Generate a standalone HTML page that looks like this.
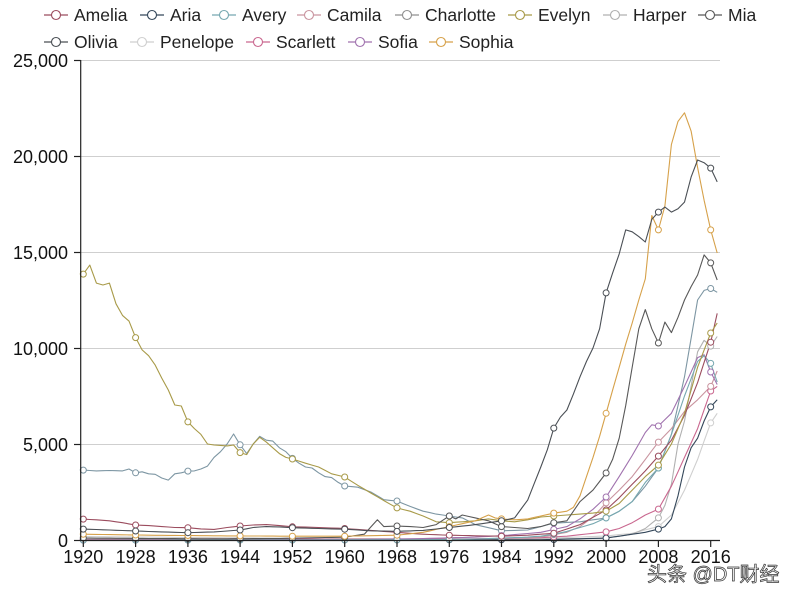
<!DOCTYPE html>
<html>
<head>
<meta charset="utf-8">
<style>
html,body{margin:0;padding:0;background:#fff;}
body{width:800px;height:600px;overflow:hidden;position:relative;font-family:"Liberation Sans",Arial,sans-serif;}
svg{position:absolute;left:0;top:0;}
</style>
</head>
<body>
<svg id="chart" width="800" height="600" viewBox="0 0 800 600" xmlns="http://www.w3.org/2000/svg" font-family="Liberation Sans, Arial, sans-serif">
  <!-- gridlines -->
  <g stroke="#cfcfcf" stroke-width="1">
    <line x1="81" y1="60.5" x2="720" y2="60.5"/>
    <line x1="81" y1="156.5" x2="720" y2="156.5"/>
    <line x1="81" y1="252.5" x2="720" y2="252.5"/>
    <line x1="81" y1="348.5" x2="720" y2="348.5"/>
    <line x1="81" y1="444.5" x2="720" y2="444.5"/>
  </g>
  <g id="series"></g>
  <!-- axes -->
  <g stroke="#222" stroke-width="1.2" fill="none">
    <line x1="80.7" y1="60" x2="80.7" y2="540.5"/>
    <line x1="80.7" y1="540.5" x2="720" y2="540.5"/>
    <line x1="74" y1="60.5" x2="80.7" y2="60.5"/>
    <line x1="74" y1="156.5" x2="80.7" y2="156.5"/>
    <line x1="74" y1="252.5" x2="80.7" y2="252.5"/>
    <line x1="74" y1="348.5" x2="80.7" y2="348.5"/>
    <line x1="74" y1="444.5" x2="80.7" y2="444.5"/>
    <line x1="74" y1="540.5" x2="80.7" y2="540.5"/>
  </g>
  <g id="xticks" stroke="#222" stroke-width="1.2"></g>
  <!-- y labels -->
  <g font-size="18" fill="#111" text-anchor="end">
    <text x="68" y="67">25,000</text>
    <text x="68" y="163">20,000</text>
    <text x="68" y="259">15,000</text>
    <text x="68" y="355">10,000</text>
    <text x="68" y="451">5,000</text>
    <text x="68" y="547">0</text>
  </g>
  <!-- x labels -->
  <g font-size="18" fill="#111" text-anchor="middle">
    <text x="83.3" y="563">1920</text>
    <text x="135.6" y="563">1928</text>
    <text x="187.9" y="563">1936</text>
    <text x="240.1" y="563">1944</text>
    <text x="292.4" y="563">1952</text>
    <text x="344.7" y="563">1960</text>
    <text x="397.0" y="563">1968</text>
    <text x="449.3" y="563">1976</text>
    <text x="501.5" y="563">1984</text>
    <text x="553.8" y="563">1992</text>
    <text x="606.1" y="563">2000</text>
    <text x="658.4" y="563">2008</text>
    <text x="710.7" y="563">2016</text>
  </g>
  <!-- legend -->
  <g id="legend" font-size="17.5" fill="#222">
    <text x="74" y="21">Amelia</text>
    <text x="170" y="21">Aria</text>
    <text x="242" y="21">Avery</text>
    <text x="327" y="21">Camila</text>
    <text x="425" y="21">Charlotte</text>
    <text x="538" y="21">Evelyn</text>
    <text x="633" y="21">Harper</text>
    <text x="728" y="21">Mia</text>
    <text x="74" y="48">Olivia</text>
    <text x="160" y="48">Penelope</text>
    <text x="276" y="48">Scarlett</text>
    <text x="378" y="48">Sofia</text>
    <text x="459" y="48">Sophia</text>
  </g>
  <g id="legmarks"></g>
  <!-- watermark -->
  <text x="647" y="581" font-size="20" fill="#f2f2f2" stroke="#333" stroke-width="0.7" font-family="Liberation Sans, Noto Sans CJK SC, sans-serif">头条 @DT财经</text>
</svg>
<script>
(function(){
  var NS="http://www.w3.org/2000/svg";
  function X(y){return 83.3+6.535*(y-1920);}
  function Y(v){return 540-v*0.0192;}
  var S=[
   {n:"Penelope",c:"#cfcfcf",d:[[1920,180],[1930,150],[1940,120],[1950,100],[1960,80],[1970,60],[1980,60],[1990,80],[2000,210],[2004,350],[2008,700],[2010,1300],[2012,2600],[2014,4200],[2016,6100],[2017,6600]]},
   {n:"Harper",c:"#b0b0b0",d:[[1920,30],[1950,20],[1980,20],[1990,40],[2000,100],[2004,300],[2006,600],[2008,1150],[2009,1800],[2010,2900],[2011,5000],[2012,6200],[2013,8000],[2014,9800],[2015,10400],[2016,10100],[2017,10600]]},
   {n:"Charlotte",c:"#7d96a3",d:[[1920,3640],[1922,3600],[1924,3620],[1926,3600],[1927,3700],[1928,3500],[1929,3550],[1930,3450],[1931,3420],[1932,3230],[1933,3120],[1934,3450],[1935,3500],[1936,3590],[1937,3600],[1938,3700],[1939,3850],[1940,4300],[1941,4600],[1942,5000],[1943,5520],[1944,4960],[1945,4500],[1946,5000],[1947,5400],[1948,5200],[1949,5150],[1950,4800],[1951,4600],[1952,4250],[1953,4000],[1954,3800],[1955,3750],[1956,3500],[1957,3300],[1958,3250],[1959,3000],[1960,2810],[1962,2750],[1964,2500],[1966,2100],[1968,2030],[1970,1750],[1972,1500],[1974,1350],[1976,1250],[1978,1150],[1980,800],[1984,480],[1988,520],[1992,880],[1996,950],[2000,1150],[2002,1500],[2004,2000],[2006,2800],[2008,3750],[2010,5500],[2012,8500],[2013,10500],[2014,12500],[2015,13000],[2016,13100],[2017,12900]]},
   {n:"Aria",c:"#34475a",d:[[1920,0],[1990,10],[2000,100],[2004,300],[2006,400],[2008,570],[2009,700],[2010,1100],[2011,2300],[2012,3800],[2013,4800],[2014,5300],[2015,6200],[2016,6930],[2017,7300]]},
   {n:"Scarlett",c:"#c9678f",d:[[1920,30],[1940,60],[1960,40],[1980,60],[1990,120],[1994,200],[1998,350],[2000,420],[2002,600],[2004,900],[2006,1300],[2008,1610],[2010,2800],[2012,4300],[2014,5800],[2016,7760],[2017,8000]]},
   {n:"Camila",c:"#c9949f",d:[[1920,0],[1970,10],[1980,50],[1990,150],[1994,400],[1996,700],[1998,1200],[2000,1930],[2002,2600],[2004,3300],[2006,4200],[2008,5100],[2010,5800],[2012,6700],[2014,7300],[2016,8000],[2017,8800]]},
   {n:"Sofia",c:"#a072ae",d:[[1920,0],[1960,20],[1970,60],[1980,150],[1985,250],[1990,400],[1994,700],[1996,1100],[1998,1600],[2000,2240],[2002,3300],[2004,4400],[2006,5600],[2007,6000],[2008,5940],[2010,6600],[2012,8000],[2014,9500],[2015,9650],[2016,8750],[2017,8100]]},
   {n:"Avery",c:"#76a8b0",d:[[1920,0],[1970,10],[1980,50],[1984,100],[1988,150],[1990,200],[1992,300],[1994,450],[1996,650],[1998,850],[2000,1150],[2002,1500],[2004,2000],[2006,3000],[2008,3750],[2010,5500],[2012,7500],[2014,9300],[2015,9600],[2016,9200],[2017,8230]]},
   {n:"Amelia",c:"#9b4c5e",d:[[1920,1090],[1922,1050],[1924,1000],[1926,900],[1928,780],[1930,750],[1932,700],[1934,650],[1936,640],[1938,580],[1940,550],[1942,650],[1944,730],[1946,780],[1948,800],[1950,750],[1952,690],[1956,650],[1960,600],[1964,500],[1968,400],[1972,300],[1976,250],[1980,220],[1984,200],[1988,250],[1992,350],[1996,800],[2000,1560],[2002,2200],[2004,2900],[2006,3600],[2008,4370],[2010,5200],[2012,6500],[2014,8200],[2016,10300],[2017,11800]]},
   {n:"Evelyn",c:"#a89a48",d:[[1920,13850],[1921,14320],[1922,13380],[1923,13280],[1924,13380],[1925,12300],[1926,11700],[1927,11400],[1928,10540],[1929,9900],[1930,9600],[1931,9110],[1932,8440],[1933,7810],[1934,7030],[1935,6980],[1936,6150],[1937,5800],[1938,5500],[1939,5000],[1940,4950],[1942,4900],[1943,4950],[1944,4550],[1945,4450],[1946,5000],[1947,5350],[1948,5100],[1949,4800],[1950,4500],[1951,4300],[1952,4220],[1954,4000],[1956,3800],[1958,3450],[1960,3280],[1962,2850],[1964,2450],[1966,2050],[1968,1670],[1970,1500],[1972,1250],[1974,950],[1976,900],[1978,950],[1980,1000],[1982,1100],[1984,1000],[1986,950],[1988,1050],[1990,1200],[1992,1250],[1994,1300],[1996,1350],[1998,1400],[2000,1500],[2002,1900],[2004,2600],[2006,3300],[2008,3900],[2010,5000],[2012,6600],[2014,9000],[2016,10780],[2017,11300]]},
   {n:"Mia",c:"#585858",d:[[1920,100],[1930,80],[1940,60],[1950,80],[1960,150],[1963,300],[1965,1050],[1966,700],[1968,730],[1970,700],[1972,650],[1974,800],[1976,1250],[1977,1100],[1978,1300],[1980,1150],[1982,1000],[1984,700],[1986,650],[1988,600],[1990,700],[1992,900],[1994,1000],[1995,1500],[1996,2000],[1998,2600],[2000,3490],[2001,4200],[2002,5300],[2003,7000],[2004,9000],[2005,11000],[2006,12000],[2007,11000],[2008,10260],[2009,11350],[2010,10800],[2011,11600],[2012,12500],[2013,13200],[2014,13800],[2015,14850],[2016,14430],[2017,13540]]},
   {n:"Sophia",c:"#d6a14a",d:[[1920,300],[1930,250],[1940,220],[1950,200],[1960,200],[1968,250],[1972,400],[1976,700],[1978,850],[1980,1000],[1982,1300],[1983,1150],[1984,1100],[1986,1050],[1988,1100],[1990,1250],[1992,1400],[1994,1500],[1995,1700],[1996,2300],[1997,3300],[1998,4300],[1999,5400],[2000,6600],[2001,7800],[2002,9000],[2003,10200],[2004,11300],[2005,12500],[2006,13600],[2007,16900],[2008,16150],[2009,17400],[2010,20600],[2011,21800],[2012,22250],[2013,21300],[2014,19400],[2015,17700],[2016,16150],[2017,14950]]},
   {n:"Olivia",c:"#4a4f55",d:[[1920,570],[1924,520],[1928,470],[1932,420],[1936,380],[1940,420],[1944,520],[1946,650],[1948,700],[1950,680],[1952,640],[1956,600],[1960,560],[1964,480],[1968,450],[1972,500],[1976,650],[1980,800],[1984,1000],[1986,1150],[1988,2080],[1990,3800],[1991,4700],[1992,5830],[1993,6400],[1994,6770],[1995,7600],[1996,8500],[1997,9300],[1998,10000],[1999,11000],[2000,12870],[2001,13900],[2002,14900],[2003,16150],[2004,16050],[2005,15800],[2006,15520],[2007,16700],[2008,17080],[2009,17340],[2010,17080],[2011,17250],[2012,17600],[2013,18900],[2014,19790],[2015,19650],[2016,19370],[2017,18650]]}
  ];
  function interp(kp){
    var out=[],j=0,last=kp[kp.length-1][0];
    for(var yr=kp[0][0];yr<=last;yr++){
      while(j<kp.length-2 && kp[j+1][0]<yr) j++;
      var a=kp[j],b=kp[j+1];
      var t=(yr-a[0])/(b[0]-a[0]);
      out.push([yr,a[1]+(b[1]-a[1])*t]);
    }
    return out;
  }
  var g=document.getElementById("series");
  var lines=document.createElementNS(NS,"g");
  var marks=document.createElementNS(NS,"g");
  g.appendChild(lines);g.appendChild(marks);
  S.forEach(function(s){
    var pts=interp(s.d);
    var p=document.createElementNS(NS,"polyline");
    p.setAttribute("points",pts.map(function(q){return X(q[0]).toFixed(1)+","+Y(q[1]).toFixed(1);}).join(" "));
    p.setAttribute("fill","none");
    p.setAttribute("stroke",s.c);
    p.setAttribute("stroke-width","1.1");
    p.setAttribute("stroke-linejoin","round");
    lines.appendChild(p);
    pts.forEach(function(q){
      if((q[0]-1920)%8===0){
        var c=document.createElementNS(NS,"circle");
        c.setAttribute("cx",X(q[0]).toFixed(1));
        c.setAttribute("cy",Y(q[1]).toFixed(1));
        c.setAttribute("r","3");
        c.setAttribute("fill","#fff");
        c.setAttribute("stroke",s.c);
        c.setAttribute("stroke-width","1");
        marks.appendChild(c);
      }
    });
  });
  // x ticks
  var xt=document.getElementById("xticks");
  for(var yr=1920;yr<=2016;yr+=8){
    var l=document.createElementNS(NS,"line");
    l.setAttribute("x1",X(yr).toFixed(1));l.setAttribute("x2",X(yr).toFixed(1));
    l.setAttribute("y1","540.5");l.setAttribute("y2","547");
    xt.appendChild(l);
  }
  // legend markers
  var cols={Amelia:"#9b4c5e",Aria:"#34475a",Avery:"#76a8b0",Camila:"#c9949f",Charlotte:"#8f8f8f",Evelyn:"#a89a48",Harper:"#b0b0b0",Mia:"#585858",Olivia:"#4a4f55",Penelope:"#cfcfcf",Scarlett:"#c9678f",Sofia:"#a072ae",Sophia:"#d6a14a"};
  var items=[["Amelia",74,15],["Aria",170,15],["Avery",242,15],["Camila",327,15],["Charlotte",425,15],["Evelyn",538,15],["Harper",633,15],["Mia",728,15],["Olivia",74,42],["Penelope",160,42],["Scarlett",276,42],["Sofia",378,42],["Sophia",459,42]];
  var lm=document.getElementById("legmarks");
  items.forEach(function(it){
    var c=cols[it[0]],tx=it[1],cy=it[2];
    var l=document.createElementNS(NS,"line");
    l.setAttribute("x1",tx-30);l.setAttribute("x2",tx-6);
    l.setAttribute("y1",cy);l.setAttribute("y2",cy);
    l.setAttribute("stroke",c);l.setAttribute("stroke-width","1.2");
    lm.appendChild(l);
    var ci=document.createElementNS(NS,"circle");
    ci.setAttribute("cx",tx-18);ci.setAttribute("cy",cy);ci.setAttribute("r","4.5");
    ci.setAttribute("fill","#fff");ci.setAttribute("stroke",c);ci.setAttribute("stroke-width","1.1");
    lm.appendChild(ci);
  });
})();
</script>
</body>
</html>
